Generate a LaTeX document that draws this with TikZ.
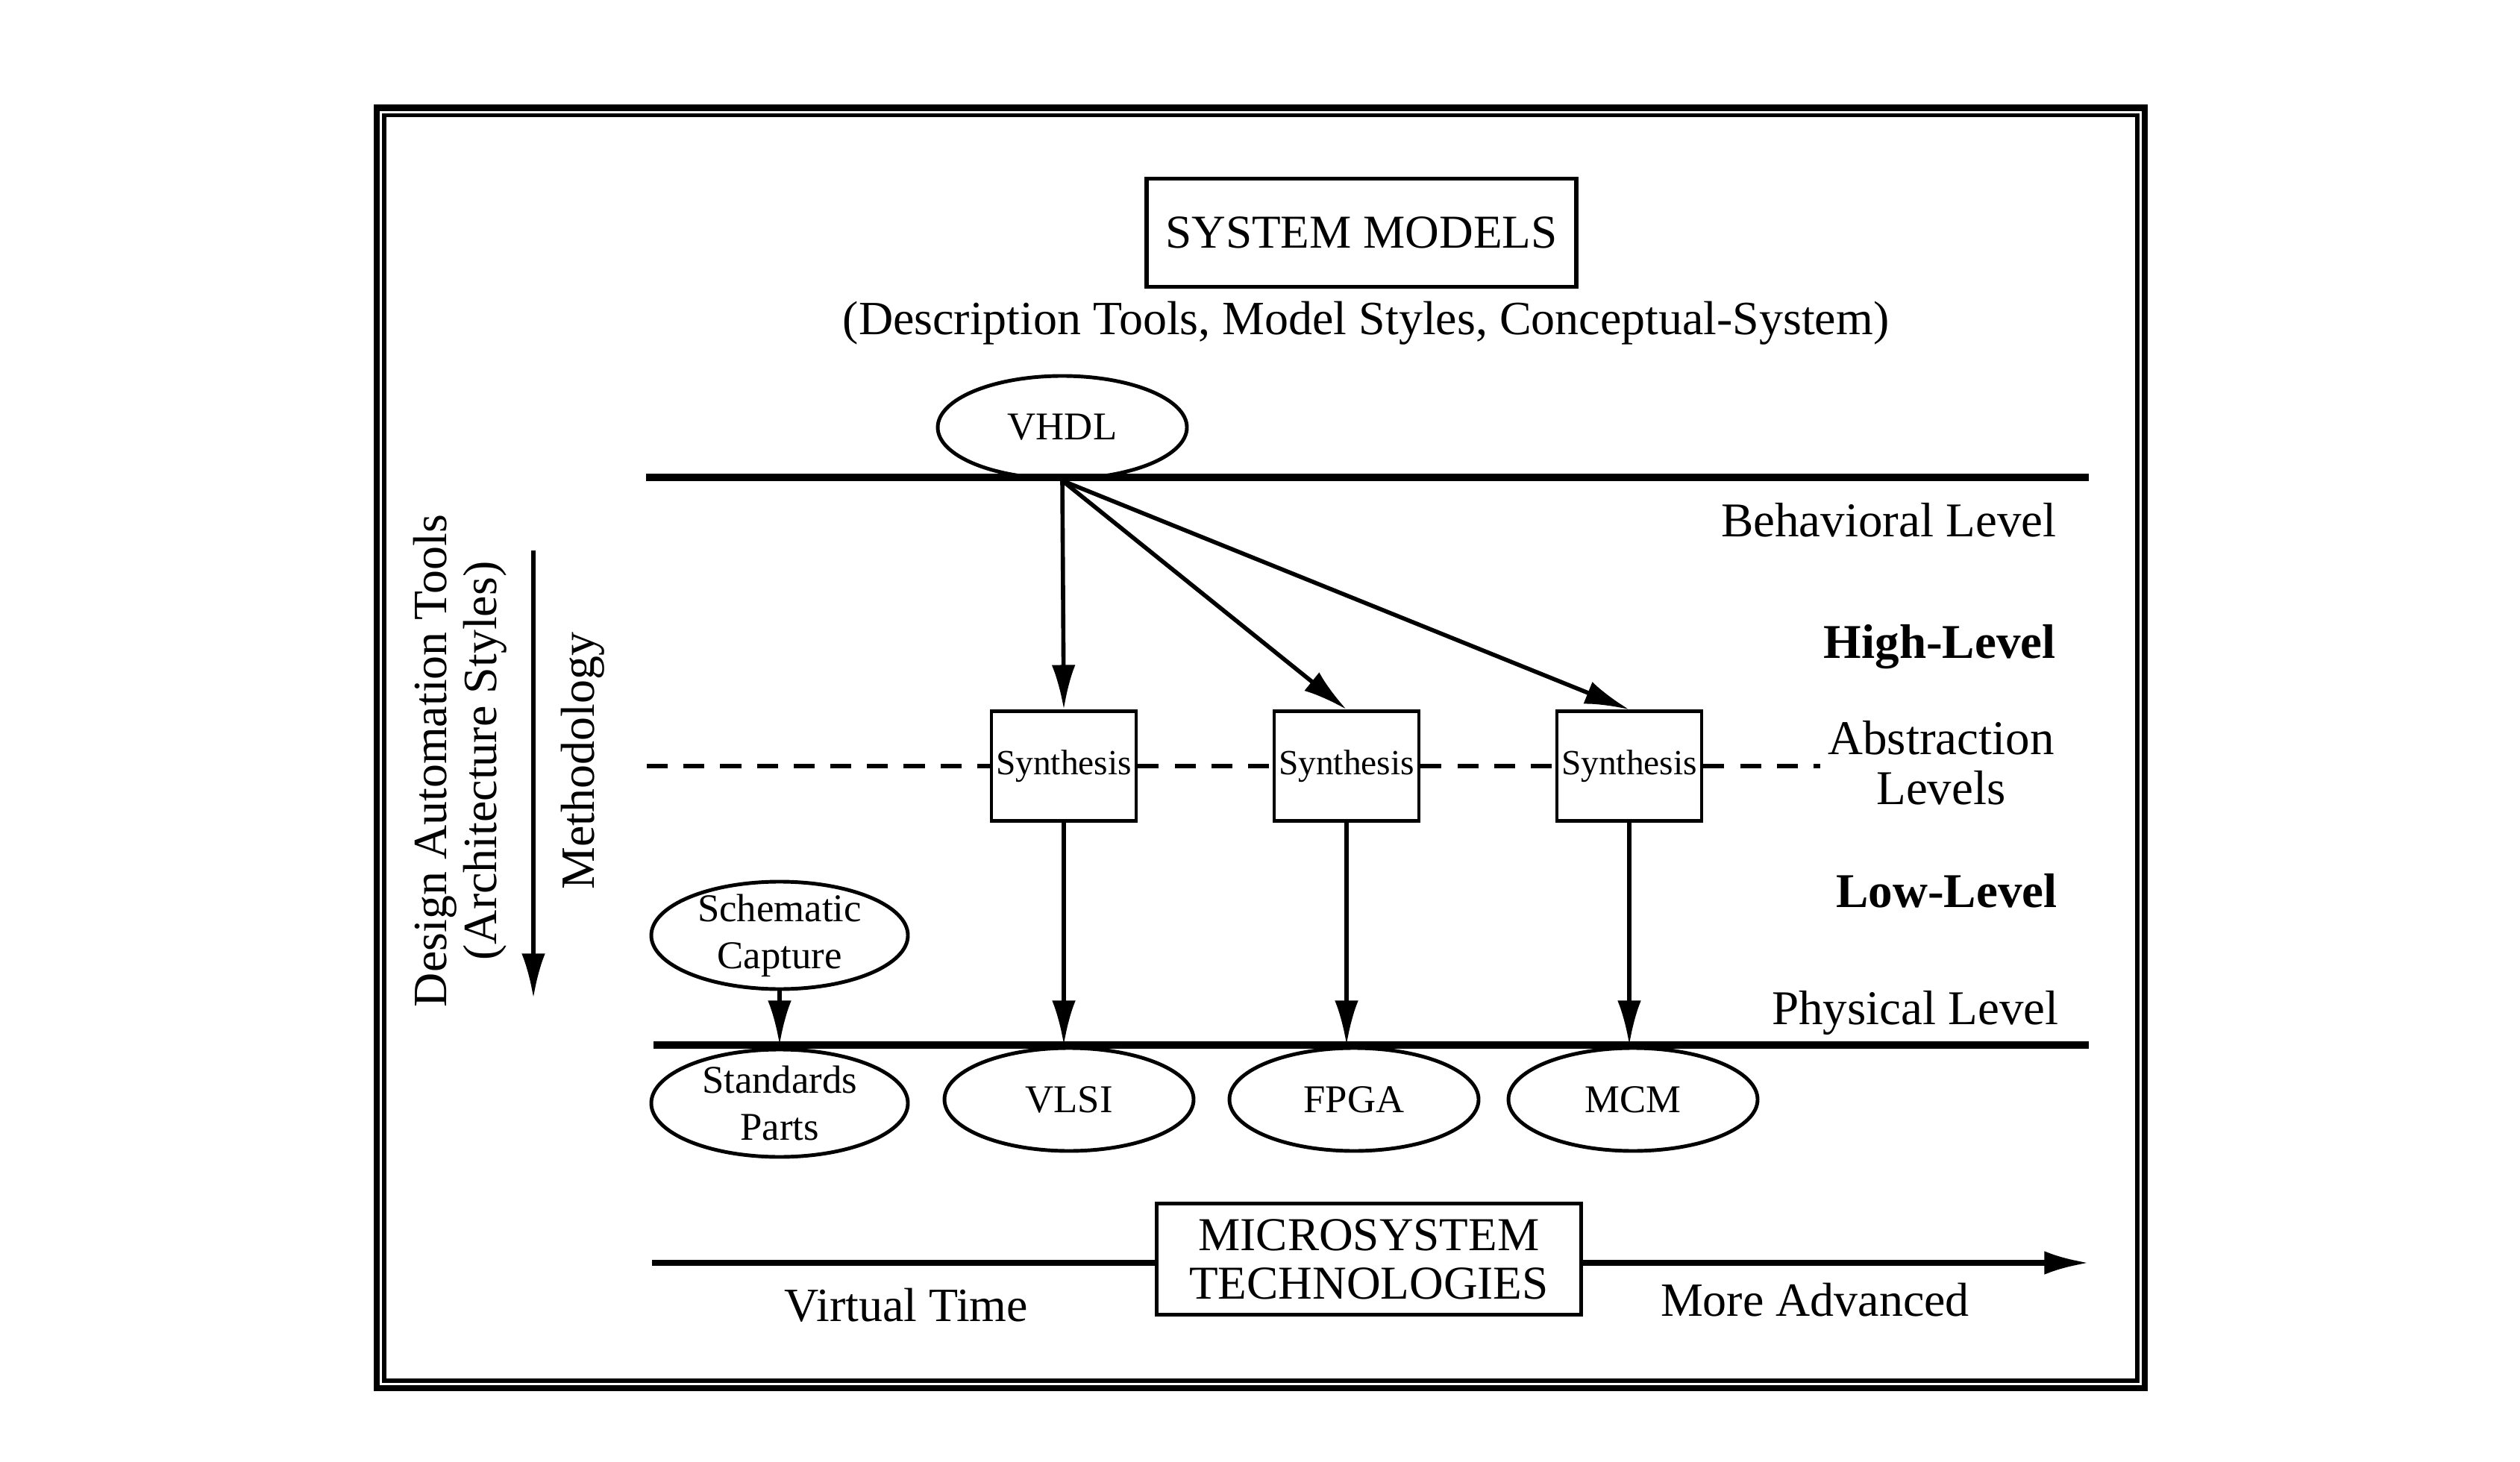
\documentclass[tikz,border=0pt]{standalone}
\usepackage{fontspec}
\setmainfont{Liberation Serif}
\usetikzlibrary{shapes.geometric,arrows.meta}

\begin{document}
\begin{tikzpicture}[
    lvl/.style={font=\fontsize{18.5}{19}\selectfont,anchor=east,align=center},
    txt/.style={font=\fontsize{18.2}{19}\selectfont,align=center},
    oval/.style={draw,ellipse,line width=1.4pt,inner sep=0pt,minimum width=3.34cm,minimum height=1.38cm,font=\fontsize{15}{18}\selectfont,align=center},
    twoline/.style={inner ysep=-3pt,minimum width=3.44cm,minimum height=1.44cm},
    synth/.style={draw,fill=white,line width=1.3pt,inner sep=0pt,minimum width=1.94cm,minimum height=1.47cm,font=\fontsize{13.5}{16}\selectfont},
    bigbox/.style={draw,line width=1.5pt,inner sep=0pt,font=\fontsize{18}{18.5}\selectfont,align=center},
    tip/.style={-{Latex[length=17pt,width=9pt]},line width=1.6pt},
    levelline/.style={line width=2.8pt},
    dashline/.style={line width=1.7pt,dash pattern=on 8pt off 6pt}]

      \useasboundingbox (0,0) rectangle (33.78,19.59);
      \draw[line width=2.3pt] (5.05,0.98) rectangle (28.75,18.145);
      \draw[line width=1.7pt] (5.15,1.08) rectangle (28.65,18.045);

      \node[bigbox,minimum width=5.76cm,minimum height=1.45cm] (models) at (18.25,16.47) {SYSTEM MODELS};
      \node[txt] (desc) at (18.31,15.26) {(Description Tools, Model Styles, Conceptual-System)};

      \coordinate (bl) at (8.66,13.19);
      \coordinate (br) at (28.0,13.19);
      \draw[levelline] (bl) -- (br);
      \node[oval] (vhdl) at (14.24,13.86) {VHDL};

      \coordinate (dl) at (8.67,9.32);
      \coordinate (dr) at (24.40,9.32);
      \node[synth] (s1) at (14.26,9.32) {Synthesis};
      \node[synth] (s2) at (18.05,9.32) {Synthesis};
      \node[synth] (s3) at (21.84,9.32) {Synthesis};
      \draw[dashline] (dl) -- (s1.west);
      \draw[dashline] (s1.east) -- (s2.west);
      \draw[dashline] (s2.east) -- (s3.west);
      \draw[dashline] (s3.east) -- (dr);

      \draw[tip] (vhdl.south) -- (s1.north);
      \draw[tip] (vhdl.south) -- (s2.north);
      \draw[tip] (vhdl.south) -- (s3.north);

      \coordinate (pl) at (8.76,5.58);
      \coordinate (pr) at (28.0,5.58);
      \draw[levelline] (pl) -- (pr);

      \draw[tip] (s1.south) -- (s1.south |- pl);
      \draw[tip] (s2.south) -- (s2.south |- pl);
      \draw[tip] (s3.south) -- (s3.south |- pl);

      \node[oval,twoline] (schem) at (10.45,7.05) {Schematic\\Capture};
      \draw[tip] (schem.south) -- (schem.south |- pl);

      \node[oval,twoline] (std) at (10.45,4.80) {Standards\\Parts};
      \node[oval] (vlsi) at (14.33,4.85) {VLSI};
      \node[oval] (fpga) at (18.15,4.85) {FPGA};
      \node[oval] (mcm) at (21.89,4.85) {MCM};

      \node[lvl] (behav) at (27.69,12.62) {Behavioral Level};
      \node[lvl] (high) at (27.68,10.92) {\bfseries High-Level};
      \node[lvl] (abstr) at (27.66,9.36) {Abstraction\\Levels};
      \node[lvl] (low) at (27.70,7.65) {\bfseries Low-Level};
      \node[lvl] (phys) at (27.72,6.01) {Physical Level};

      \node[txt,rotate=90] (dat) at (6.17,9.39) {Design Automation Tools\\(Architecture Styles)};
      \node[txt,rotate=90] (meth) at (7.81,9.39) {Methodology};
      \coordinate (mtop) at (7.15,12.21);
      \coordinate (mbot) at (7.15,6.21);
      \draw[tip] (mtop) -- (mbot);

      \node[bigbox,minimum width=5.69cm,minimum height=1.49cm] (micro) at (18.35,2.71) {MICROSYSTEM\\TECHNOLOGIES};
      \coordinate (tl) at (8.74,2.66);
      \coordinate (tr) at (28.0,2.66);
      \draw[line width=2pt] (tl) -- (tl -| micro.west);
      \draw[tip,line width=2pt] (micro.east |- tr) -- (tr);
      \node[txt] (vtime) at (12.15,2.09) {Virtual Time};
      \node[txt] (adv) at (24.33,2.16) {More Advanced};
    \end{tikzpicture}
\end{document}
